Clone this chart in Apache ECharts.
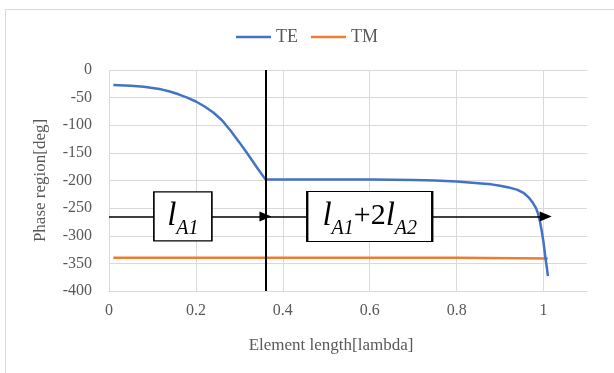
<!DOCTYPE html>
<html>
<head>
<meta charset="utf-8">
<script src="https://cdn.jsdelivr.net/npm/echarts@6/dist/echarts.min.js"></script>
<style>
  html, body { margin: 0; padding: 0; background: #fff; }
  #chart { width: 614px; height: 373px; }
</style>
</head>
<body>
<div id="chart"></div>
<script>
// element length [lambda] vs phase [deg]
var teX = [0.01, 0.05, 0.08, 0.1, 0.12, 0.14, 0.16, 0.18, 0.2, 0.22, 0.24, 0.26, 0.28, 0.3, 0.32, 0.34, 0.36,
  0.4, 0.5, 0.6, 0.7, 0.75, 0.8, 0.85, 0.88, 0.9, 0.92, 0.94, 0.955, 0.965, 0.975, 0.982, 0.987, 0.992, 0.996, 1.0, 1.004, 1.008, 1.01];
var teY = [-27, -28.5, -30.5, -32.5, -35, -39, -44, -50, -57, -66, -77, -91, -110, -131, -153, -176, -198,
  -198, -198, -198, -199, -200, -202, -205, -207, -209.5, -212.5, -217, -223, -230, -240, -249, -259, -275, -292, -312, -338, -360, -373];
var tmX = [0.01, 0.2, 0.4, 0.6, 0.8, 1.01];
var tmY = [-340, -340, -340, -340, -340, -341];

var xTicks = [0, 0.2, 0.4, 0.6, 0.8, 1];
var yTicks = [0, -50, -100, -150, -200, -250, -300, -350, -400];

// annotations
var splitX = 0.36;
var arrowY = -265;
var arrowEnds = [[0, 0.36], [0.36, 1.005]];
var boxX = [0.17, 0.6];
var boxText = ['{l|l}{s|A1}', '{l|l}{s|A1}{p|+2}{l|l}{s|A2}'];
var boxSize = [[58, 49], [125, 50]];

function pairs(xs, ys) {
  return xs.map(function (x, i) { return [x, ys[i]]; });
}

var serif = '"Times New Roman", "Liberation Serif", serif';
var chart = echarts.init(document.getElementById('chart'));

var richText = {
  l: { fontFamily: serif, fontStyle: 'italic', fontSize: 33, color: '#000', lineHeight: 36 },
  s: { fontFamily: serif, fontStyle: 'italic', fontSize: 20, color: '#000', verticalAlign: 'bottom', lineHeight: 44 },
  p: { fontFamily: serif, fontSize: 30, color: '#000', lineHeight: 36 }
};

chart.setOption({
  animation: false,
  graphic: [{
    type: 'rect',
    left: 3,
    top: 7,
    shape: { width: 609, height: 380 },
    style: { fill: 'none', stroke: '#d9d9d9', lineWidth: 1 }
  }],
  legend: {
    data: ['TE', 'TM'],
    top: 23,
    left: 'center',
    icon: 'rect',
    itemWidth: 35,
    itemHeight: 2.5,
    itemGap: 13,
    textStyle: { fontFamily: serif, fontSize: 18, color: '#595959' }
  },
  grid: { left: 109, top: 70, right: 27, bottom: 82 },
  xAxis: {
    type: 'value',
    min: 0,
    max: 1.1,
    interval: 0.2,
    name: 'Element length[lambda]',
    nameLocation: 'middle',
    nameGap: 46,
    nameTextStyle: { fontFamily: serif, fontSize: 17, color: '#595959', padding: [0, 34, 0, 0] },
    axisLine: { onZero: false, lineStyle: { color: '#d9d9d9', width: 1 } },
    axisTick: { show: false },
    axisLabel: {
      margin: 12,
      fontFamily: serif,
      fontSize: 16,
      color: '#595959',
      showMaxLabel: false,
      formatter: function (v) {
        var hit = xTicks.filter(function (t) { return Math.abs(t - v) < 1e-6; });
        return hit.length ? String(hit[0]) : '';
      }
    },
    splitLine: { show: true, showMaxLine: false, lineStyle: { color: '#d9d9d9', width: 1 } }
  },
  yAxis: {
    type: 'value',
    min: yTicks[yTicks.length - 1],
    max: yTicks[0],
    interval: 50,
    name: 'Phase region[deg]',
    nameLocation: 'middle',
    nameGap: 60,
    nameTextStyle: { fontFamily: serif, fontSize: 17, color: '#595959' },
    axisLine: { show: false },
    axisTick: { show: false },
    axisLabel: { margin: 17, fontFamily: serif, fontSize: 16, color: '#595959' },
    splitLine: { lineStyle: { color: '#d9d9d9', width: 1 } }
  },
  series: [
    {
      name: 'TE',
      type: 'line',
      data: pairs(teX, teY),
      symbol: 'none',
      lineStyle: { color: '#4472C4', width: 2.5, join: 'round' },
      itemStyle: { color: '#4472C4' },
      z: 4
    },
    {
      name: 'TM',
      type: 'line',
      data: pairs(tmX, tmY),
      symbol: 'none',
      lineStyle: { color: '#ED7D31', width: 2.5 },
      itemStyle: { color: '#ED7D31' },
      z: 3
    },
    {
      name: 'marks',
      type: 'line',
      data: [],
      z: 5,
      markLine: {
        silent: true,
        animation: false,
        label: { show: false },
        data: [
          [
            { coord: [splitX, yTicks[0]], symbol: 'none', lineStyle: { color: '#000', width: 2, type: 'solid' } },
            { coord: [splitX, yTicks[yTicks.length - 1]], symbol: 'none' }
          ]
        ].concat(arrowEnds.map(function (e) {
          return [
            { coord: [e[0], arrowY], symbol: 'none', lineStyle: { color: '#000', width: 1.5, type: 'solid' } },
            { coord: [e[1], arrowY], symbol: 'triangle', symbolSize: [10, 12], symbolRotate: -90 }
          ];
        }))
      }
    },
    {
      name: 'boxes',
      type: 'line',
      data: [],
      z: 6,
      markPoint: {
        silent: true,
        animation: false,
        data: boxX.map(function (x, i) {
          return {
            coord: [x, arrowY],
            symbol: 'rect',
            symbolSize: boxSize[i],
            itemStyle: { color: '#fff', borderColor: '#000', borderWidth: 1.5 },
            label: {
              show: true,
              position: 'inside',
              formatter: boxText[i],
              rich: richText
            }
          };
        })
      }
    }
  ]
});
</script>
</body>
</html>
